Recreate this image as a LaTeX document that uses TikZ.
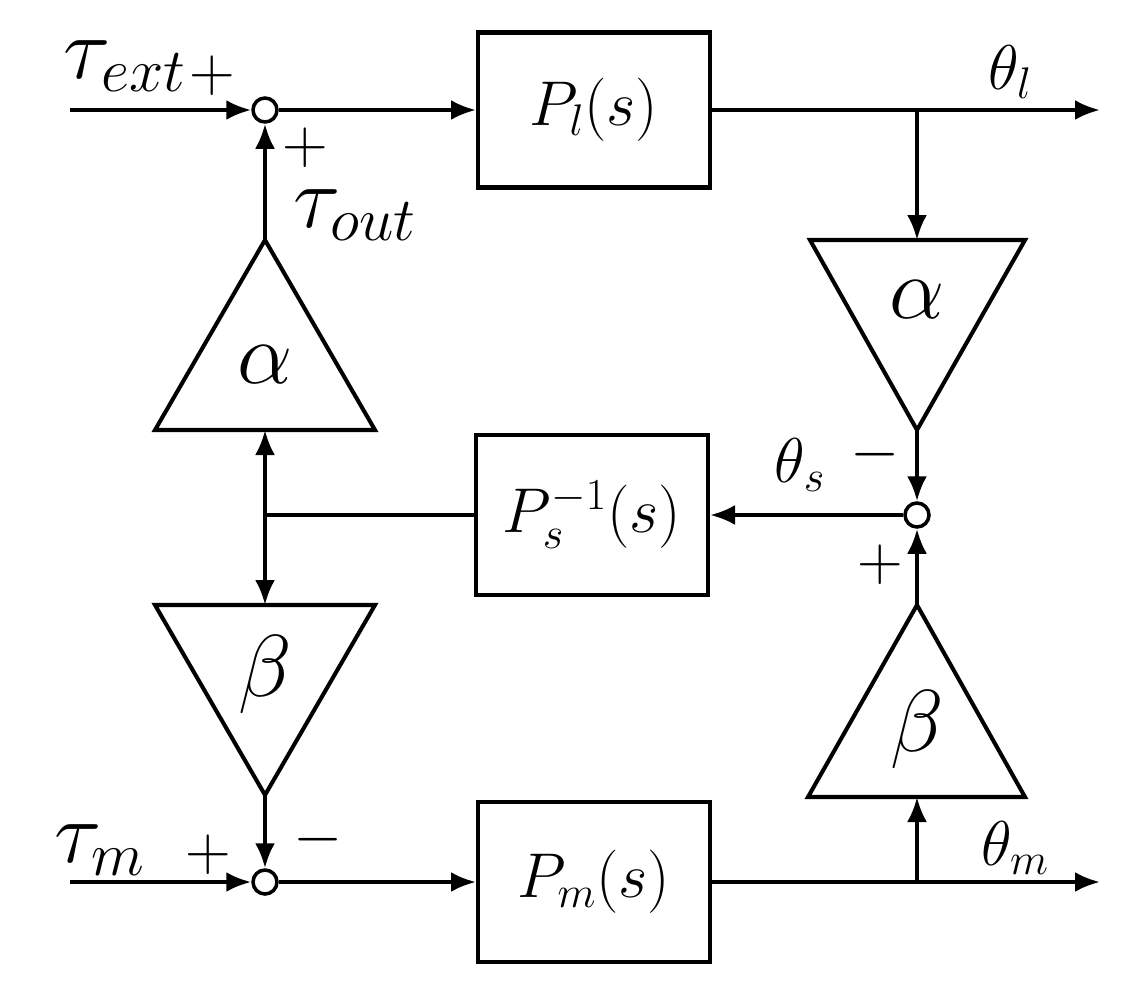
\RequirePackage{fix-cm}
\documentclass[tikz,border=0pt]{standalone}
\usepackage{amsmath}
\usetikzlibrary{arrows.meta}
\begin{document}
\begin{tikzpicture}[x=0.02cm,y=-0.02cm,
  every node/.style={font=\fontsize{36}{42}\selectfont},
  big/.style={font=\fontsize{50}{56}\selectfont},
  ln/.style={line width=2.3pt},
  ar/.style={ln,-{Latex[length=0.5cm,width=0.4cm]}},
  blk/.style={draw,line width=2.3pt,minimum width=4.64cm,minimum height=3.1cm,inner sep=0},
  sm/.style={draw,circle,line width=2pt,minimum size=0.48cm,inner sep=0},
  lab/.style={inner sep=0}]
\useasboundingbox (0,0) rectangle (1132,994);
% blocks
\node[blk] (Pl) at (594,110) {$P_l(s)$};
\node[blk,minimum height=3.2cm] (Ps) at (592,515) {$P_s^{-1}(s)$};
\node[blk,minimum height=3.2cm] (Pm) at (594,882) {$P_m(s)$};
\node[sm] (s1) at (265,110) {};
\node[sm] (s2) at (917,515) {};
\node[sm] (s3) at (265,882) {};
% triangles
\draw[ln] (155,430) -- (375,430) -- (265,240) -- cycle;
\node[big] at (265,365) {$\alpha$};
\draw[ln] (810,240) -- (1025,240) -- (917,430) -- cycle;
\node[big] at (917,300) {$\alpha$};
\draw[ln] (155,605) -- (375,605) -- (265,795) -- cycle;
\node[big] at (265,675) {$\beta$};
\draw[ln] (808,797) -- (1025,797) -- (917,605) -- cycle;
\node[big] at (917,730) {$\beta$};
\coordinate (aLt) at (265,240); \coordinate (aLb) at (265,430);
\coordinate (aRt) at (917,240); \coordinate (aRb) at (917,430);
\coordinate (bLt) at (265,605); \coordinate (bLb) at (265,795);
\coordinate (bRt) at (917,605); \coordinate (bRb) at (917,797);
\coordinate (j) at (265,515);
\coordinate (inT) at (70,110); \coordinate (inB) at (70,882);
\coordinate (outT) at (1100,110); \coordinate (outB) at (1100,882);
\coordinate (bT) at (917,110); \coordinate (bB) at (917,882);
% connectors
\draw[ar] (inT) -- (s1);
\draw[ar] (s1) -- (Pl);
\draw[ar] (Pl.east|-outT) -- (outT);
\draw[ar] (bT) -- (aRt);
\draw[ar] (aRb) -- (s2);
\draw[ar] (s2) -- (Ps);
\draw[ln] (Ps) -- (j);
\draw[ar] (j) -- (aLb);
\draw[ar] (j) -- (bLt);
\draw[ar] (aLt) -- (s1);
\draw[ar] (bLb) -- (s3);
\draw[ar] (inB) -- (s3);
\draw[ar] (s3) -- (Pm);
\draw[ar] (Pm.east|-outB) -- (outB);
\draw[ar] (bB) -- (bRb);
\draw[ar] (bRt) -- (s2);
% labels
\node[lab,big] at (125,66) {$\tau_{ext}$};
\node[lab] at (212,76) {$+$};
\node[lab] at (305,148) {$+$};
\node[lab,big] at (355,215) {$\tau_{out}$};
\node[lab] at (1010,72) {$\theta_l$};
\node[lab] at (800,465) {$\theta_s$};
\node[lab] at (875,455) {$-$};
\node[lab] at (880,565) {$+$};
\node[lab,big] at (100,850) {$\tau_m$};
\node[lab] at (208,855) {$+$};
\node[lab] at (318,840) {$-$};
\node[lab] at (1015,848) {$\theta_m$};
\end{tikzpicture}
\end{document}
